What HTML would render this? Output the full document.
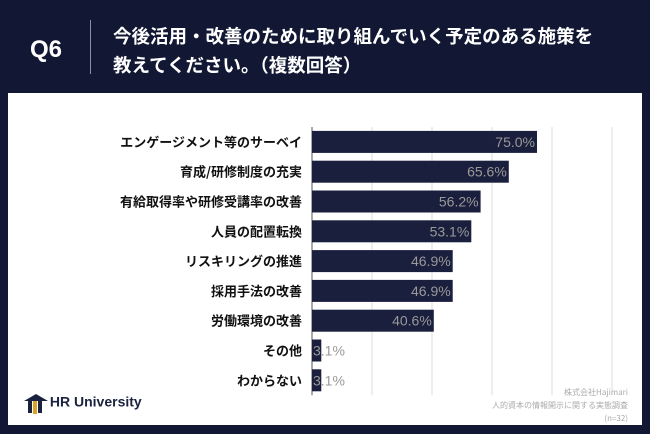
<!DOCTYPE html>
<html><head><meta charset="utf-8"><style>
body{margin:0;width:650px;height:434px;background:#121833;font-family:"Liberation Sans","Noto Sans CJK JP",sans-serif;position:relative;overflow:hidden}
.abs{position:absolute}
</style></head><body>
<div class="abs" style="left:30px;top:36px;color:#fff;font-size:24px;font-weight:bold">Q6</div>
<div class="abs" style="left:90px;top:20px;width:1px;height:54px;background:#8a8fa3"></div>
<div class="abs" style="left:113px;top:22px;color:#fff;font-size:18.5px;font-weight:bold;line-height:29px;font-family:'Noto Sans CJK JP',sans-serif">今後活用・改善のために取り組んでいく予定のある施策を<br>教えてください。（複数回答）</div>
<div class="abs" style="left:8px;top:93px;width:634px;height:332px;background:#fff"></div>
<svg class="abs" style="left:0;top:0" width="650" height="434" id="chart"></svg>
<div class="abs" style="left:24px;top:392px;color:#1a2240;font-size:14px;font-weight:bold"><span style="display:inline-block;width:22px;height:22px;vertical-align:middle;position:relative"><span style="position:absolute;left:0;top:2px;width:0;height:0;border-left:12px solid transparent;border-right:12px solid transparent;border-bottom:7px solid #1a2240"></span><span style="position:absolute;left:4px;top:9px;width:4px;height:12px;background:#1a2240"></span><span style="position:absolute;left:9px;top:9px;width:4px;height:13px;background:#d9a528"></span><span style="position:absolute;left:14px;top:9px;width:4px;height:12px;background:#1a2240"></span></span> HR University</div>
<div class="abs" style="right:22px;top:386px;text-align:right;color:#aaa;font-size:8px;line-height:13px;font-family:'Noto Sans CJK JP',sans-serif">株式会社Hajimari<br>人的資本の情報開示に関する実態調査<br>(n=32)</div>
<script>
const categories=["エンゲージメント等のサーベイ","育成/研修制度の充実","有給取得率や研修受講率の改善","人員の配置転換","リスキリングの推進","採用手法の改善","労働環境の改善","その他","わからない"];
const values=[75.0,65.6,56.2,53.1,46.9,46.9,40.6,3.1,3.1];
const gridTicks=[0,20,40,60,80,100];
const svg=document.getElementById('chart');
const NS='http://www.w3.org/2000/svg';
const x0=312,pxPer=3,top0=127,rowH=29.8,barH=22;
const xs=v=>x0+v*pxPer;
const ys=i=>top0+i*rowH+(rowH-barH)/2;
function mk(t,a){const e=document.createElementNS(NS,t);for(const k in a)e.setAttribute(k,a[k]);svg.appendChild(e);return e;}
gridTicks.forEach((t,i)=>{const l=mk('line',{x1:xs(t),x2:xs(t),y1:top0,y2:top0+rowH*categories.length,stroke:t===0?'#555':'#ddd','stroke-width':1});

});
categories.forEach((c,i)=>{
const y=ys(i);
const r=mk('rect',{x:x0,y:y,width:values[i]*pxPer,height:barH,fill:'#1a1f3d'});


const lb=mk('text',{x:302,y:y+barH/2+5,'text-anchor':'end','font-size':13,'font-weight':'bold',fill:'#111','font-family':'Noto Sans CJK JP,sans-serif'});
lb.textContent=c;


const vt=values[i]>10?mk('text',{x:xs(values[i])-2,y:y+barH/2+5,'text-anchor':'end','font-size':14,fill:'#999'}):mk('text',{x:x0+1,y:y+barH/2+5,'font-size':14,fill:'#999'});
vt.textContent=values[i].toFixed(1)+'%';


});
</script>
</body></html>
